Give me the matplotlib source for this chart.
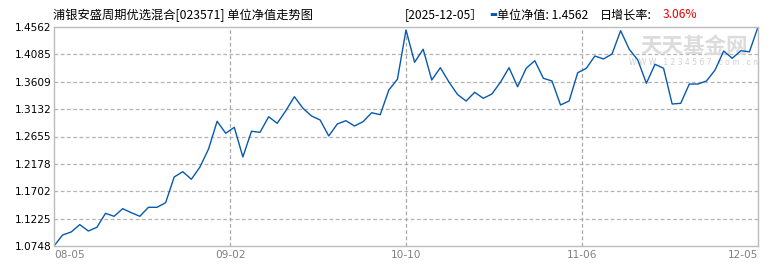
import matplotlib
matplotlib.use("Agg")
from matplotlib import pyplot as plt

plt.rcParams['font.family'] = ['Noto Sans CJK SC', 'DejaVu Sans']

# unit NAV, one value per trading day 2025-08-05 .. 2025-12-05
nav = [1.0748, 1.0940, 1.0992, 1.1120, 1.1009, 1.1074, 1.1317, 1.1265, 1.1398, 1.1328,
       1.1265, 1.1422, 1.1422, 1.1502, 1.1950, 1.2042, 1.1910, 1.2124, 1.2437, 1.2920,
       1.2711, 1.2815, 1.2298, 1.2746, 1.2728, 1.2999, 1.2885, 1.3104, 1.3348, 1.3146,
       1.3012, 1.2942, 1.2664, 1.2873, 1.2930, 1.2838, 1.2913, 1.3069, 1.3035, 1.3465,
       1.3651, 1.4510, 1.3948, 1.4174, 1.3639, 1.3853, 1.3604, 1.3387, 1.3273, 1.3425,
       1.3320, 1.3395, 1.3599, 1.3853, 1.3522, 1.3843, 1.3975, 1.3669, 1.3622, 1.3204,
       1.3273, 1.3766, 1.3843, 1.4057, 1.4005, 1.4092, 1.4498, 1.4174, 1.3987, 1.3582,
       1.3912, 1.3843, 1.3221, 1.3233, 1.3569, 1.3569, 1.3622, 1.3813, 1.4144, 1.4017,
       1.4149, 1.4130, 1.4562]
date_labels = ['08-05', '09-02', '10-10', '11-06', '12-05']
ytick_labels = ['1.0748', '1.1225', '1.1702', '1.2178', '1.2655',
                '1.3132', '1.3609', '1.4085', '1.4562']

W, H = 770, 270
fig = plt.figure(figsize=(W / 100, H / 100), dpi=100)
ax = fig.add_axes([54 / W, (H - 246) / H, 704 / W, 219 / H])

xs = list(range(len(nav)))
ax.plot(xs, nav, color='#0759b0', lw=1.0)

n = len(nav) - 1
xt = [n * i / 4 for i in range(5)]
yt = [float(v) for v in ytick_labels]
ax.set_xlim(0, n)
ax.set_ylim(yt[0], yt[-1])
ax.set_xticks(xt)
ax.set_xticklabels(date_labels, color='#808080', fontsize=7.6, family='DejaVu Sans')
lbls = ax.get_xticklabels()
lbls[0].set_ha('left')
lbls[-1].set_ha('right')
ax.set_yticks(yt)
ax.set_yticklabels(ytick_labels, fontsize=7.6, family='DejaVu Sans', color='#000000')
ax.tick_params(length=0, pad=2)
ax.tick_params(axis='x', pad=3)

for v in yt[1:-1]:
    ax.axhline(v, color='#b4b4b4', lw=0.9, ls=(0, (3, 2)), zorder=0)
for v in xt[1:-1]:
    ax.axvline(v, color='#a8a8a8', lw=0.9, ls=(0, (3, 2)), zorder=0)
for s in ax.spines.values():
    s.set_color('#bcbcbc')
    s.set_linewidth(1.0)

# watermark
ax.text(0.909, 0.91, '天天基金网', transform=ax.transAxes, ha='center', va='center',
        fontsize=15.5, color='#dcdcdc', fontweight='bold', zorder=0)
ax.text(0.909, 0.836, 'W W W . 1 2 3 4 5 6 7 . c o m . c n', transform=ax.transAxes,
        ha='center', va='center', fontsize=5.5, color='#d0d0d0', family='DejaVu Sans', zorder=0)

# header
def px(x, y):
    return x / W, 1 - y / H

fig.text(*px(53, 15), '浦银安盛周期优选混合[023571] 单位净值走势图', fontsize=8.8,
         va='center', ha='left')
fig.text(*px(405, 15), '[2025-12-05］', fontsize=8.7, va='center', ha='left')
fig.text(*px(489, 15), '▬', fontsize=6, va='center', ha='left', color='#0759b0',
         family='DejaVu Sans')
fig.text(*px(497, 15), '单位净值: 1.4562', fontsize=8.7, va='center', ha='left')
fig.text(*px(600, 15), '日增长率:', fontsize=8.7, va='center', ha='left')
fig.text(*px(663, 15), '3.06%', fontsize=8.7, va='center', ha='left', color='#ee0000')

fig.savefig('out.png', dpi=100)
